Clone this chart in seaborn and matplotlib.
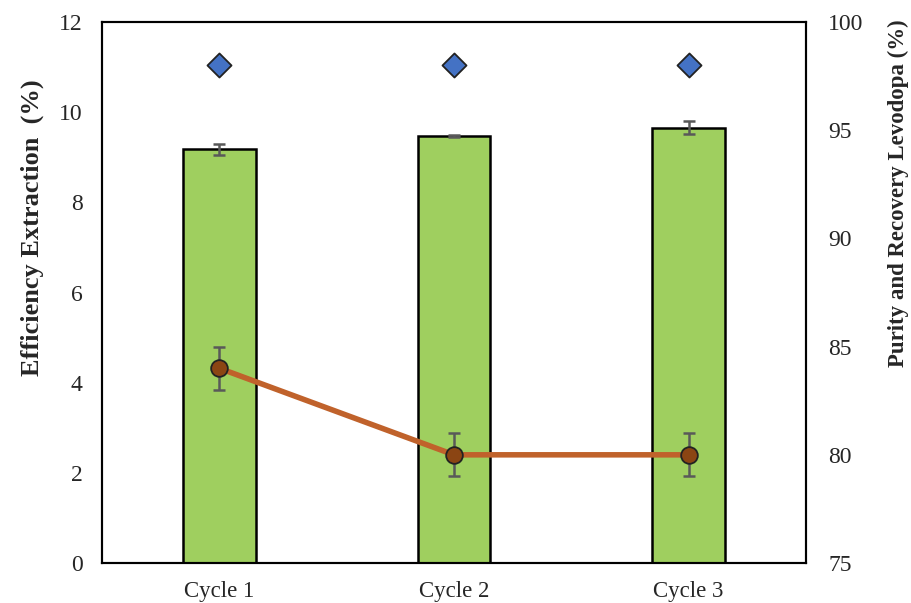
import matplotlib
matplotlib.use("Agg")
import matplotlib.pyplot as plt
import seaborn as sns
import pandas as pd

cycles = ["Cycle 1", "Cycle 2", "Cycle 3"]
efficiency = [9.18, 9.48, 9.66]
efficiency_err = [0.12, 0.02, 0.14]
purity = [98.0, 98.0, 98.0]
recovery = [84.0, 80.0, 80.0]
recovery_err = [1.0, 1.0, 1.0]

sns.set_theme(style="white")
plt.rcParams["font.family"] = ["Liberation Serif", "DejaVu Serif"]

df = pd.DataFrame({"cycle": cycles, "efficiency": efficiency})

fig = plt.figure(figsize=(9.12, 6.03), dpi=100)
ax = fig.add_axes([0.1118, 0.0663, 0.772, 0.8972])

# bars: extraction efficiency on the left axis
sns.barplot(data=df, x="cycle", y="efficiency", color="#9fcf5f", width=0.31,
            edgecolor="black", linewidth=1.8, saturation=1, ax=ax)
ax.errorbar(range(len(cycles)), efficiency, yerr=efficiency_err, fmt="none",
            ecolor="#595959", elinewidth=1.8, capsize=4.3, capthick=1.8, zorder=5)

ax.set_xlim(-0.5, 2.5)
ax.set_ylim(0, 12)
ax.set_yticks(range(0, 13, 2))
ax.set_xlabel("")
ax.set_ylabel("Efficiency Extraction  (%)", fontsize=19, fontweight="bold")
ax.yaxis.set_label_coords(-0.083, 0.619)
ax.tick_params(axis="y", length=0, labelsize=17, pad=14)
ax.tick_params(axis="x", length=0, labelsize=16.5, pad=13)
for s in ax.spines.values():
    s.set_color("black")
    s.set_linewidth(1.5)

# purity (diamonds) and recovery (line) on the right axis
ax2 = ax.twinx()
ax2.set_ylim(75, 100)
ax2.set_yticks(range(75, 101, 5))
ax2.errorbar(range(len(cycles)), recovery, yerr=recovery_err, fmt="none",
             ecolor="#595959", elinewidth=1.8, capsize=4.3, capthick=1.8, zorder=3)
sns.lineplot(x=list(range(len(cycles))), y=recovery, color="#c0622b", linewidth=4,
             marker="o", markersize=12, markerfacecolor="#8b4513",
             markeredgecolor="#222222", markeredgewidth=1.3, ax=ax2, zorder=4)
sns.scatterplot(x=list(range(len(cycles))), y=purity, marker="D", s=150,
                color="#4472c4", edgecolor="#222222", linewidth=1.3, ax=ax2, zorder=5)
ax2.set_ylabel("Purity and Recovery Levodopa (%)", fontsize=16.5, fontweight="bold")
ax2.yaxis.set_label_coords(1.116, 0.684)
ax2.tick_params(axis="y", length=0, labelsize=17, pad=16)
ax2.set_xlim(-0.5, 2.5)
for s in ax2.spines.values():
    s.set_color("black")
    s.set_linewidth(1.5)

fig.savefig("out.png", dpi=100)
